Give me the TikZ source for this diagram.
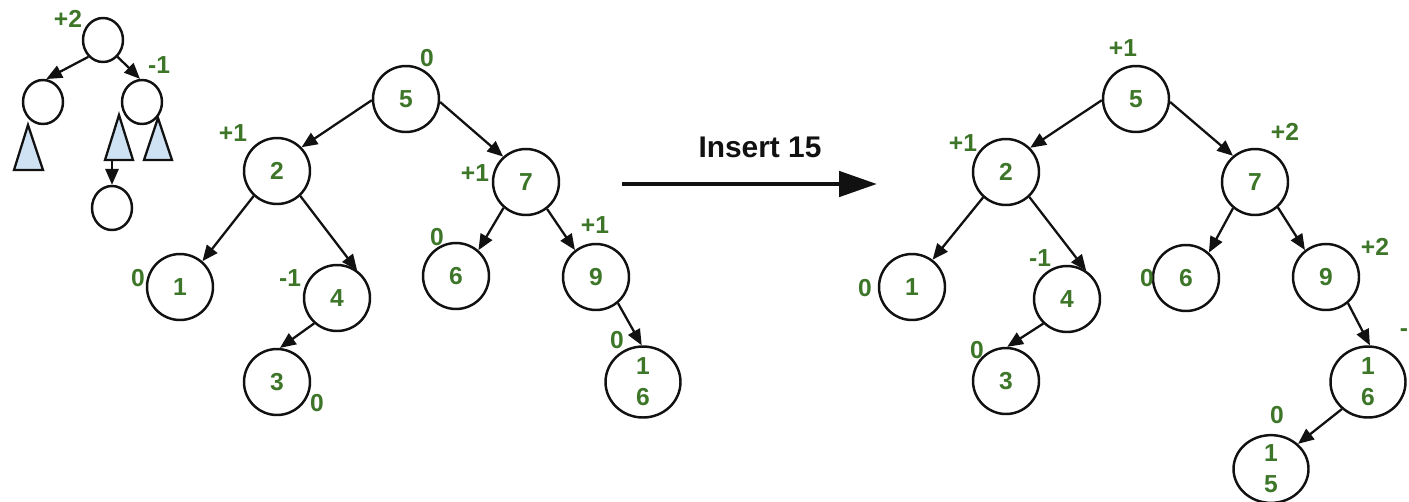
\documentclass[tikz,border=0pt]{standalone}
\usepackage{fontspec}
\setmainfont{Liberation Sans}
\usepackage{tikz}
\usetikzlibrary{arrows.meta,shapes.geometric}
\definecolor{ink}{HTML}{111111}
\definecolor{leaf}{HTML}{3D7629}
\definecolor{sky}{HTML}{CFE2F3}

\begin{document}
\begin{tikzpicture}[x=0.02cm,y=-0.02cm,>={Triangle[length=9pt,width=7.5pt]},
  key/.style={draw=ink,line width=1.4pt,circle,minimum size=1.32cm,inner sep=0pt,text=leaf,font=\fontsize{14}{17.5}\selectfont\bfseries},
  twokey/.style={key,ellipse,minimum width=1.5cm,minimum height=1.42cm,align=center},
  blank/.style={draw=ink,line width=1.4pt,ellipse,minimum width=0.8cm,minimum height=0.88cm,inner sep=0pt},
  bal/.style={text=leaf,inner sep=0pt,font=\fontsize{14}{16}\selectfont\bfseries},
  sub/.style={draw=ink,line width=1.3pt,fill=sky,line join=miter},
  edge/.style={->,draw=ink,line width=1.3pt}]
\useasboundingbox (0,0) rectangle (1409,501);
% small tree: the unbalanced case
\node[blank] (sr) at (103,40) {};
\node[blank] (sl) at (43,102) {};
\node[blank] (sm) at (142,102) {};
\node[blank] (sc) at (112,208) {};
\draw[sub] (28,125) -- (43,170) -- (14,170) -- cycle;
\draw[sub] (119,115) -- (133,160) -- (105,160) -- cycle;
\draw[sub] (158,118) -- (172,160) -- (144,160) -- cycle;
\coordinate (tb) at (112,160);
\draw[edge] (sr.229)--(sl.82); \draw[edge] (sr.-49)--(sm.95); \draw[edge] (tb)--(sc.north);
\node[bal] at (68,19) {+2}; \node[bal] at (159,65) {-1};
% tree before the insertion
\node[key] (n5) at (406,99) {5};
\node[key] (n2) at (277,171) {2};
\node[key] (n7) at (526,182) {7};
\node[key] (n1) at (180,287) {1};
\node[key] (n4) at (337,298) {4};
\node[key] (n3) at (277,382) {3};
\node[key] (n6) at (456,276) {6};
\node[key] (n9) at (596,277) {9};
\node[twokey] (n16) at (643,382) {1\\6};
\draw[edge] (n5.182)--(n2.44); \draw[edge] (n5.-5)--(n7.132);
\draw[edge] (n2.227)--(n1.49); \draw[edge] (n2.-47)--(n4.54);
\draw[edge] (n4.228)--(n3.85);
\draw[edge] (n7.229)--(n6.49); \draw[edge] (n7.-52)--(n9.128);
\draw[edge] (n9.-50)--(n16.92);
\node[bal] at (427,58) {0}; \node[bal] at (233,133) {+1}; \node[bal] at (475,173) {+1};
\node[bal] at (138,278) {0}; \node[bal] at (290,278) {-1}; \node[bal] at (317,403) {0};
\node[bal] at (437,237) {0}; \node[bal] at (595,225) {+1}; \node[bal] at (617,340) {0};
% the step
\coordinate (go) at (622,184); \coordinate (done) at (877,184);
\draw[line width=2.8pt,draw=ink,-{Triangle[length=0.76cm,width=0.5cm]}] (go)--(done);
\node[text=ink,font=\fontsize{17}{20}\selectfont\bfseries] (ins) at (760,147) {Insert 15};
% tree after the insertion
\node[key] (m5) at (1136,99) {5};
\node[key] (m2) at (1006,172) {2};
\node[key] (m7) at (1255,182) {7};
\node[key] (m1) at (912,287) {1};
\node[key] (m4) at (1067,299) {4};
\node[key] (m3) at (1006,381) {3};
\node[key] (m6) at (1186,278) {6};
\node[key] (m9) at (1326,277) {9};
\node[twokey] (m16) at (1368,382) {1\\6};
\node[twokey,minimum height=1.2cm] (m15) at (1271,469) {1\\5};
\draw[edge] (m5.182)--(m2.45); \draw[edge] (m5.-5)--(m7.130);
\draw[edge] (m2.228)--(m1.53); \draw[edge] (m2.-47)--(m4.56);
\draw[edge] (m4.226)--(m3.88);
\draw[edge] (m7.230)--(m6.48); \draw[edge] (m7.-48)--(m9.128);
\draw[edge] (m9.-50)--(m16.87); \draw[edge] (m16.226)--(m15.43);
\node[bal] at (1123,48) {+1}; \node[bal] at (963,143) {+1}; \node[bal] at (1285,132) {+2};
\node[bal] at (865,288) {0}; \node[bal] at (1040,258) {-1}; \node[bal] at (977,350) {0};
\node[bal] at (1147,278) {0}; \node[bal] at (1375,247) {+2}; \node[bal] at (1277,415) {0};
\node[bal] at (1404,333) {-};
\end{tikzpicture}
\end{document}
